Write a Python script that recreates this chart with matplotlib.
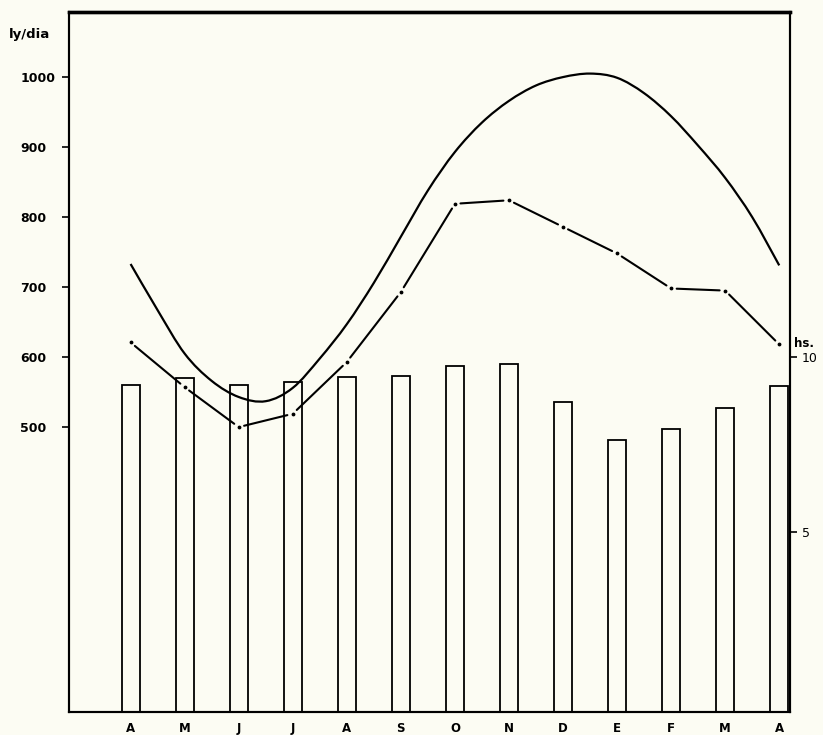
import matplotlib
matplotlib.use("Agg")
import matplotlib.pyplot as plt
from matplotlib.path import Path
from matplotlib.patches import PathPatch
import numpy as np

# meses (abril a abril)
months = ["A", "M", "J", "J", "A", "S", "O", "N", "D", "E", "F", "M", "A"]

# radiacion maxima (curva continua), leida cada medio mes, ly/dia
rad_max_t = [0, 0.5, 1, 1.5, 2, 2.5, 3, 3.5, 4, 4.5, 5, 5.5, 6,
             6.5, 7, 7.5, 8, 8.5, 9, 9.5, 10, 10.5, 11, 11.5, 12]
rad_max = [733, 667, 605, 566, 543, 537, 556, 598, 647, 706, 772, 838, 893,
           935, 966, 988, 1000, 1005, 999, 977, 944, 902, 856, 800, 731]

# radiacion media (linea punto-raya), ly/dia
rad_med = [621, 557, 500, 519, 593, 693, 819, 824, 786, 748, 698, 695, 618]

# heliofania (barras), horas
sun_hours = [9.21, 9.39, 9.21, 9.28, 9.44, 9.45, 9.75, 9.81, 8.72, 7.64, 7.95, 8.54, 9.16]

bg = "#fcfcf3"
plt.rcParams["font.family"] = ["DejaVu Sans"]

fig = plt.figure(figsize=(8.23, 7.35), dpi=100, facecolor=bg)
ax = fig.add_axes([0.0838, 0.0313, 0.8755, 0.9524])
ax.set_facecolor(bg)
ax2 = ax.twinx()

x = np.arange(len(months))

# barras en eje derecho
ax2.set_ylim(-0.14, 19.86)
b0 = ax2.get_ylim()[0]
ax2.bar(x, np.array(sun_hours) - b0, bottom=b0, width=0.33, facecolor=bg,
        edgecolor="black", linewidth=1.3, zorder=1)


def smooth_path(px, py):
    # curva suave (Catmull-Rom como Bezier) que pasa por los puntos leidos
    p = np.column_stack([px, py]).astype(float)
    verts = [p[0]]
    codes = [Path.MOVETO]
    for i in range(len(p) - 1):
        p0 = p[i - 1] if i > 0 else p[i]
        p3 = p[i + 2] if i + 2 < len(p) else p[i + 1]
        c1 = p[i] + (p[i + 1] - p0) / 6
        c2 = p[i + 1] - (p3 - p[i]) / 6
        verts += [c1, c2, p[i + 1]]
        codes += [Path.CURVE4] * 3
    return Path(verts, codes)


ax.add_patch(PathPatch(smooth_path(rad_max_t, rad_max), facecolor="none",
                       edgecolor="black", lw=1.6, zorder=3))

# linea punto-raya: segmentos cortados y punto en cada mes
for i in range(len(x) - 1):
    ax.annotate("", xy=(x[i + 1], rad_med[i + 1]), xytext=(x[i], rad_med[i]),
                arrowprops=dict(arrowstyle="-", shrinkA=4, shrinkB=4, lw=1.5,
                                color="black"), zorder=3)
ax.plot(x, rad_med, ".", color="black", ms=3.5, zorder=3)

ax.set_zorder(ax2.get_zorder() + 1)
ax.patch.set_visible(False)

ax.set_xlim(-1.14, 12.19)
ax.set_ylim(93, 1093)

ax.set_xticks(x)
ax.set_xticklabels(months, fontsize=8.5, fontweight="bold")
ax.tick_params(axis="x", length=0, pad=7)

ax.set_yticks([500, 600, 700, 800, 900, 1000])
ax.set_yticklabels(["500", "600", "700", "800", "900", "1000"],
                   fontsize=9, fontweight="bold", ha="left")
ax.tick_params(axis="y", direction="out", length=5, width=1.2, pad=30)

ax2.set_yticks([5, 10])
ax2.set_yticklabels(["5", "10"], fontsize=9)
ax2.tick_params(axis="y", direction="out", length=5, width=1.2, pad=4)

for a in (ax, ax2):
    for s in ("left", "right", "bottom"):
        a.spines[s].set_linewidth(1.5)
    a.spines["top"].set_linewidth(2.4)

ax.text(-0.084, 0.968, "ly/dia", transform=ax.transAxes, fontsize=9.5,
        fontweight="bold", ha="left", va="center")
ax2.text(1.006, 0.527, "hs.", transform=ax.transAxes, fontsize=8.5,
         fontweight="bold", ha="left", va="center")

fig.savefig("out.png", dpi=100, facecolor=bg)
